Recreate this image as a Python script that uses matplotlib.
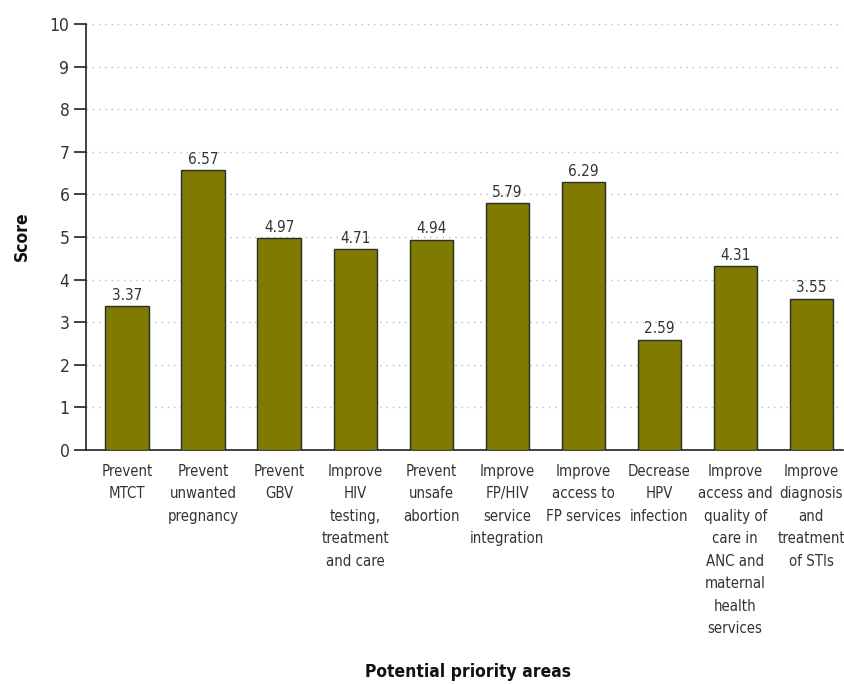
import matplotlib.pyplot as plt
import numpy as np

# the original uses a condensed face; DejaVu Sans Condensed is the closest installed one
plt.rcParams['font.family'] = ['DejaVu Sans']
plt.rcParams['font.stretch'] = 'condensed'

categories = ['Prevent\nMTCT', 'Prevent\nunwanted\npregnancy', 'Prevent\nGBV',
              'Improve\nHIV\ntesting,\ntreatment\nand care', 'Prevent\nunsafe\nabortion',
              'Improve\nFP/HIV\nservice\nintegration', 'Improve\naccess to\nFP services',
              'Decrease\nHPV\ninfection',
              'Improve\naccess and\nquality of\ncare in\nANC and\nmaternal\nhealth\nservices',
              'Improve\ndiagnosis\nand\ntreatment\nof STIs']
scores = [3.37, 6.57, 4.97, 4.71, 4.94, 5.79, 6.29, 2.59, 4.31, 3.55]

text_color = '#333333'

fig = plt.figure(figsize=(8.44, 6.84), dpi=100)
ax = fig.add_axes([0.102, 0.342, 0.897, 0.623])

x = np.arange(len(categories))
ax.bar(x, scores, width=0.57, color='#7f7b00', edgecolor='#2b2b2b', linewidth=1.0, zorder=3)

for xi, v in zip(x, scores):
    ax.text(xi, v + 0.08, f'{v:.2f}', ha='center', va='bottom', fontsize=11, color=text_color)

ax.set_xlim(-0.54, 9.42)
ax.set_ylim(0, 10)
ax.set_yticks(range(0, 11))
ax.set_xticks(x)
ax.set_xticklabels(categories, fontsize=10.7, color=text_color, linespacing=1.62)
ax.tick_params(axis='x', length=0, pad=10)
ax.tick_params(axis='y', length=9, width=1.2, color='#222222', labelsize=12.5, labelcolor=text_color, pad=3)

ax.grid(axis='y', linestyle=(0, (1, 3.5)), color='#bbbbbb', linewidth=1, zorder=0)
ax.spines['top'].set_visible(False)
ax.spines['right'].set_visible(False)
ax.spines['left'].set_color('#222222')
ax.spines['bottom'].set_color('#222222')
ax.spines['left'].set_linewidth(1.2)
ax.spines['bottom'].set_linewidth(1.2)

fig.text(0.026, 0.654, 'Score', rotation=90, ha='center', va='center', fontsize=12.5, fontweight='bold', color='#111111')
fig.text(0.555, 0.017, 'Potential priority areas', ha='center', va='center', fontsize=12.5, fontweight='bold', color='#111111')

plt.savefig('out.png', dpi=100, facecolor='white')
plt.close()
